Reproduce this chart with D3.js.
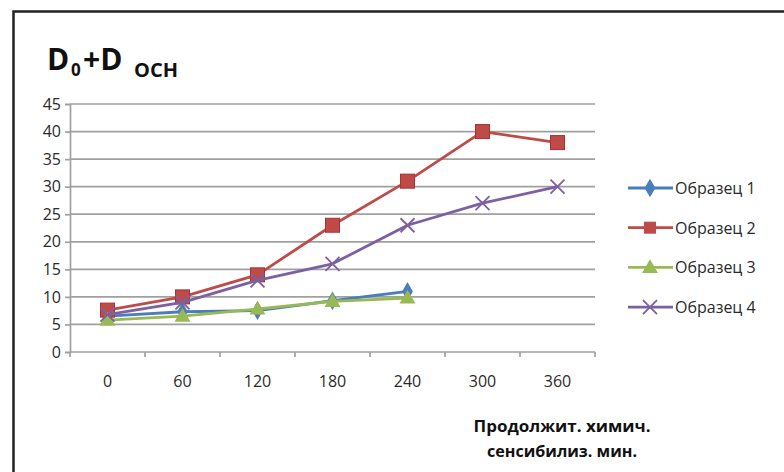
<!DOCTYPE html>
<html>
<head>
<meta charset="utf-8">
<script src="https://cdn.jsdelivr.net/npm/d3@7"></script>
<style>
  html, body { margin: 0; padding: 0; background: #fff; }
  svg { display: block; font-family: "Open Sans", Lato, sans-serif; }
</style>
</head>
<body>
<svg id="chart" width="784" height="472"></svg>
<script>
// Sensitization time (minutes) and density values for each sample
const categories = ["0", "60", "120", "180", "240", "300", "360"];
const sample1 = [6.5, 7.3, 7.5, 9.3, 11];
const sample2 = [7.6, 10, 14, 23, 31, 40, 38];
const sample3 = [5.8, 6.5, 7.8, 9.2, 9.8];
const sample4 = [6.8, 9, 13, 16, 23, 27, 30];
const seriesNames = ["Образец 1", "Образец 2", "Образец 3", "Образец 4"];
const yTicks = [0, 5, 10, 15, 20, 25, 30, 35, 40, 45];

const series = [
  { name: seriesNames[0], values: sample1, color: "#4a7ebb", marker: "diamond" },
  { name: seriesNames[1], values: sample2, color: "#be4b48", marker: "square" },
  { name: seriesNames[2], values: sample3, color: "#98b954", marker: "triangle" },
  { name: seriesNames[3], values: sample4, color: "#7d60a0", marker: "cross" }
];

const svg = d3.select("#chart");
const textColor = "#2a2a2a";

// Outer frame (left and top edges visible)
svg.append("path")
  .attr("d", "M13.5,472 L13.5,11.5 L784,11.5")
  .attr("fill", "none").attr("stroke", "#222").attr("stroke-width", 2.5);

const plot = { left: 70, right: 595, top: 104, bottom: 352 };

const x = d3.scaleBand().domain(categories).range([plot.left, plot.right]);
const y = d3.scaleLinear().domain([0, 45]).range([plot.bottom, plot.top]);

// Horizontal gridlines
svg.append("g").selectAll("line").data(yTicks.filter(t => t > 0)).join("line")
  .attr("x1", plot.left).attr("x2", plot.right)
  .attr("y1", d => y(d)).attr("y2", d => y(d))
  .attr("stroke", "#a0a0a0").attr("stroke-width", 1.7);

// Y axis
const yAxis = svg.append("g").attr("transform", `translate(${plot.left},0)`)
  .call(d3.axisLeft(y).tickValues(yTicks).tickSize(5).tickPadding(4));
yAxis.select(".domain").attr("stroke", "#a0a0a0").attr("stroke-width", 1.7);
yAxis.selectAll(".tick line").attr("stroke", "#a0a0a0").attr("stroke-width", 1.7);
yAxis.selectAll("text").attr("font-size", 16).attr("fill", textColor)
  .attr("font-family", "'Open Sans', Lato, sans-serif");

// X axis with tick marks between categories
const xAxisG = svg.append("g").attr("transform", `translate(0,${plot.bottom})`);
xAxisG.append("line").attr("x1", plot.left).attr("x2", plot.right)
  .attr("stroke", "#a0a0a0").attr("stroke-width", 1.7);
const bounds = categories.map(c => x(c)).concat([plot.right]);
xAxisG.selectAll("line.tk").data(bounds).join("line").attr("class", "tk")
  .attr("x1", d => d).attr("x2", d => d).attr("y1", 0).attr("y2", 5)
  .attr("stroke", "#a0a0a0").attr("stroke-width", 1.7);
xAxisG.selectAll("text").data(categories).join("text")
  .attr("x", d => x(d) + x.bandwidth() / 2).attr("y", 35)
  .attr("text-anchor", "middle").attr("font-size", 16).attr("fill", textColor)
  .text(d => d);

// Marker shapes
function drawMarker(g, type, color, cx, cy) {
  if (type === "square") {
    g.append("rect").attr("x", cx - 7).attr("y", cy - 7).attr("width", 14).attr("height", 14)
      .attr("fill", color).attr("stroke", "#a8322f").attr("stroke-width", 1);
  } else if (type === "diamond") {
    g.append("path").attr("d", d3.symbol(d3.symbolDiamond, 100)())
      .attr("transform", `translate(${cx},${cy})`).attr("fill", color);
  } else if (type === "triangle") {
    g.append("path").attr("d", d3.symbol(d3.symbolTriangle, 110)())
      .attr("transform", `translate(${cx},${cy + 1})`).attr("fill", color);
  } else if (type === "cross") {
    g.append("path").attr("d", `M${cx - 7},${cy - 7}L${cx + 7},${cy + 7}M${cx - 7},${cy + 7}L${cx + 7},${cy - 7}`)
      .attr("stroke", color).attr("stroke-width", 1.8).attr("fill", "none");
  }
}

const line = d3.line().x((d, i) => x(categories[i]) + x.bandwidth() / 2).y(d => y(d));

series.forEach(s => {
  const g = svg.append("g");
  g.append("path").datum(s.values).attr("d", line)
    .attr("fill", "none").attr("stroke", s.color).attr("stroke-width", 2.8)
    .attr("stroke-linejoin", "round");
  s.values.forEach((v, i) => drawMarker(g, s.marker, s.color, x(categories[i]) + x.bandwidth() / 2, y(v)));
});

// Legend
const legend = svg.append("g");
series.forEach((s, i) => {
  const ly = 188 + i * 39.7;
  const g = legend.append("g");
  g.append("line").attr("x1", 628).attr("x2", 673).attr("y1", ly).attr("y2", ly)
    .attr("stroke", s.color).attr("stroke-width", 2.8);
  if (s.marker === "square") {
    g.append("rect").attr("x", 644).attr("y", ly - 6).attr("width", 12).attr("height", 12).attr("fill", s.color);
  } else {
    drawMarker(g, s.marker, s.color, 650, ly);
  }
  g.append("text").attr("x", 675).attr("y", ly + 6).attr("font-size", 16).attr("fill", textColor).text(s.name);
});

// Title: D0 + D OCH, one text element with positioned runs
const title = svg.append("text").attr("font-weight", "bold").attr("fill", "#111");
title.append("tspan").attr("x", 47).attr("y", 70).attr("font-size", 30).text("D");
title.append("tspan").attr("x", 71).attr("y", 76).attr("font-size", 17).text("0");
title.append("tspan").attr("x", 83).attr("y", 70).attr("font-size", 30).text("+D");
title.append("tspan").attr("x", 134).attr("y", 77).attr("font-size", 20).text("OCH");

// X-axis title
svg.append("text").attr("x", 562).attr("y", 432).attr("text-anchor", "middle")
  .attr("font-size", 16).attr("font-weight", "bold").attr("fill", "#111")
  .attr("textLength", 177).attr("lengthAdjust", "spacingAndGlyphs")
  .text("Продолжит. химич.");
svg.append("text").attr("x", 562).attr("y", 457).attr("text-anchor", "middle")
  .attr("font-size", 16).attr("font-weight", "bold").attr("fill", "#111")
  .attr("textLength", 150).attr("lengthAdjust", "spacingAndGlyphs")
  .text("сенсибилиз. мин.");
</script>
</body>
</html>
